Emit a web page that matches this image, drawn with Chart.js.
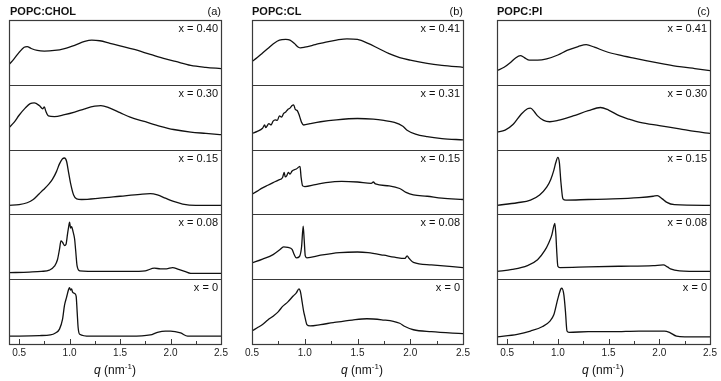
<!DOCTYPE html>
<html>
<head>
<meta charset="utf-8">
<script src="https://cdn.jsdelivr.net/npm/chart.js@4.4.1/dist/chart.umd.min.js"></script>
<style>
  body { margin: 0; width: 721px; height: 381px; background: #fff; position: relative; overflow: hidden;
         font-family: "Liberation Sans", Arial, sans-serif; color: #111; }
  canvas { position: absolute; top: 0; }
  .title { position: absolute; top: 5px; font-size: 11px; font-weight: bold; }
  .tag { position: absolute; top: 5px; font-size: 11px; text-align: right; width: 40px; }
  .qlab { position: absolute; top: 362px; font-size: 12px; width: 100px; text-align: center; }
  .qlab sup { font-size: 8px; }
</style>
</head>
<body>
<canvas id="chart_a" width="240" height="381" style="left:0px"></canvas>
<canvas id="chart_b" width="240" height="381" style="left:240px"></canvas>
<canvas id="chart_c" width="241" height="381" style="left:480px"></canvas>

<div class="title" style="left:10px">POPC:CHOL</div>
<div class="tag" style="left:181px">(a)</div>
<div class="title" style="left:252px">POPC:CL</div>
<div class="tag" style="left:423px">(b)</div>
<div class="title" style="left:497px">POPC:PI</div>
<div class="tag" style="left:670px">(c)</div>
<div class="qlab" style="left:65px"><i>q</i> (nm<sup>-1</sup>)</div>
<div class="qlab" style="left:312px"><i>q</i> (nm<sup>-1</sup>)</div>
<div class="qlab" style="left:553px"><i>q</i> (nm<sup>-1</sup>)</div>

<script>
// curves as [q, relative intensity]; 0 = bottom of its strip, 1 = top
const chol_40 = [[0.4,0.31],[0.45,0.40],[0.5,0.50],[0.55,0.58],[0.58,0.59],[0.62,0.56],[0.68,0.53],[0.75,0.52],[0.85,0.53],[0.95,0.56],[1.05,0.61],[1.15,0.67],[1.22,0.69],[1.3,0.68],[1.4,0.64],[1.5,0.60],[1.63,0.55],[1.8,0.47],[1.95,0.40],[2.05,0.36],[2.2,0.30],[2.35,0.27],[2.5,0.25]];
const chol_30 = [[0.4,0.34],[0.45,0.42],[0.5,0.53],[0.56,0.64],[0.61,0.71],[0.65,0.72],[0.7,0.68],[0.735,0.63],[0.75,0.66],[0.765,0.59],[0.79,0.52],[0.85,0.51],[0.95,0.54],[1.05,0.58],[1.15,0.63],[1.25,0.67],[1.31,0.68],[1.4,0.64],[1.5,0.57],[1.6,0.50],[1.75,0.43],[1.9,0.36],[2.03,0.31],[2.2,0.27],[2.35,0.25],[2.5,0.23]];
const chol_15 = [[0.4,0.14],[0.5,0.15],[0.58,0.18],[0.64,0.23],[0.7,0.32],[0.74,0.38],[0.79,0.46],[0.83,0.54],[0.87,0.66],[0.9,0.78],[0.93,0.86],[0.95,0.87],[0.97,0.82],[0.99,0.65],[1.01,0.48],[1.04,0.30],[1.07,0.24],[1.12,0.23],[1.3,0.25],[1.5,0.28],[1.7,0.31],[1.8,0.32],[1.87,0.30],[1.95,0.25],[2.03,0.20],[2.12,0.16],[2.25,0.14],[2.5,0.14]];
const chol_08 = [[0.4,0.10],[0.6,0.11],[0.72,0.12],[0.8,0.14],[0.85,0.20],[0.88,0.30],[0.9,0.46],[0.915,0.59],[0.93,0.57],[0.95,0.52],[0.965,0.54],[0.98,0.70],[0.99,0.80],[1.0,0.88],[1.01,0.79],[1.02,0.81],[1.035,0.73],[1.05,0.62],[1.06,0.45],[1.075,0.20],[1.1,0.13],[1.3,0.12],[1.6,0.12],[1.75,0.13],[1.84,0.17],[1.9,0.16],[1.96,0.16],[2.02,0.18],[2.08,0.15],[2.14,0.12],[2.2,0.09],[2.5,0.09]];
const chol_00 = [[0.4,0.12],[0.7,0.13],[0.81,0.14],[0.86,0.17],[0.9,0.23],[0.93,0.38],[0.95,0.60],[0.97,0.72],[0.99,0.84],[1.0,0.87],[1.01,0.83],[1.02,0.85],[1.03,0.80],[1.05,0.78],[1.065,0.74],[1.075,0.50],[1.085,0.25],[1.1,0.15],[1.2,0.12],[1.6,0.12],[1.8,0.14],[1.87,0.18],[1.95,0.20],[2.0,0.20],[2.1,0.17],[2.17,0.12],[2.5,0.12]];

const cl_41 = [[0.5,0.36],[0.55,0.42],[0.6,0.49],[0.65,0.56],[0.7,0.63],[0.76,0.69],[0.82,0.70],[0.86,0.69],[0.9,0.64],[0.94,0.58],[0.96,0.57],[1.0,0.58],[1.1,0.62],[1.2,0.66],[1.3,0.69],[1.4,0.71],[1.5,0.70],[1.6,0.64],[1.7,0.56],[1.8,0.48],[1.9,0.42],[2.0,0.38],[2.16,0.33],[2.3,0.30],[2.5,0.27]];
const cl_31 = [[0.5,0.25],[0.55,0.28],[0.6,0.33],[0.62,0.38],[0.63,0.34],[0.66,0.40],[0.68,0.38],[0.7,0.44],[0.72,0.46],[0.74,0.45],[0.76,0.52],[0.78,0.50],[0.8,0.56],[0.82,0.58],[0.84,0.62],[0.86,0.64],[0.88,0.68],[0.895,0.69],[0.91,0.62],[0.93,0.60],[0.95,0.52],[0.97,0.42],[0.99,0.38],[1.05,0.40],[1.15,0.43],[1.3,0.46],[1.5,0.48],[1.65,0.47],[1.75,0.45],[1.85,0.42],[1.93,0.36],[1.97,0.30],[2.05,0.24],[2.16,0.20],[2.3,0.17],[2.5,0.15]];
const cl_15 = [[0.5,0.31],[0.55,0.36],[0.6,0.41],[0.65,0.45],[0.7,0.49],[0.75,0.53],[0.79,0.57],[0.805,0.65],[0.815,0.58],[0.83,0.60],[0.845,0.65],[0.86,0.62],[0.88,0.67],[0.92,0.70],[0.955,0.74],[0.965,0.58],[0.98,0.44],[1.0,0.43],[1.1,0.46],[1.2,0.49],[1.35,0.51],[1.5,0.50],[1.63,0.48],[1.65,0.50],[1.67,0.47],[1.8,0.44],[1.9,0.40],[1.96,0.34],[2.03,0.30],[2.16,0.28],[2.3,0.25],[2.5,0.23]];
const cl_08 = [[0.5,0.25],[0.6,0.31],[0.7,0.38],[0.76,0.45],[0.8,0.50],[0.84,0.49],[0.88,0.46],[0.9,0.38],[0.92,0.33],[0.95,0.35],[0.97,0.50],[0.985,0.82],[0.995,0.60],[1.005,0.36],[1.02,0.33],[1.15,0.37],[1.33,0.41],[1.5,0.42],[1.6,0.41],[1.75,0.37],[1.85,0.34],[1.95,0.32],[1.97,0.36],[1.99,0.32],[2.03,0.26],[2.2,0.22],[2.5,0.18]];
const cl_00 = [[0.5,0.20],[0.55,0.25],[0.6,0.30],[0.65,0.37],[0.7,0.43],[0.75,0.50],[0.79,0.58],[0.84,0.65],[0.89,0.74],[0.92,0.79],[0.945,0.85],[0.96,0.80],[0.975,0.65],[0.99,0.50],[1.0,0.43],[1.02,0.30],[1.05,0.28],[1.15,0.30],[1.27,0.33],[1.45,0.37],[1.59,0.39],[1.75,0.37],[1.84,0.35],[1.9,0.32],[1.95,0.27],[2.03,0.22],[2.2,0.19],[2.5,0.16]];

const pi_41 = [[0.4,0.22],[0.47,0.27],[0.53,0.34],[0.58,0.41],[0.63,0.45],[0.67,0.42],[0.72,0.38],[0.8,0.38],[0.89,0.40],[1.0,0.46],[1.09,0.53],[1.2,0.59],[1.28,0.62],[1.36,0.58],[1.48,0.51],[1.6,0.46],[1.75,0.41],[1.88,0.37],[2.05,0.32],[2.2,0.28],[2.35,0.25],[2.5,0.22]];
const pi_30 = [[0.4,0.27],[0.48,0.30],[0.56,0.39],[0.64,0.55],[0.7,0.63],[0.73,0.64],[0.77,0.58],[0.8,0.52],[0.86,0.45],[0.92,0.43],[1.0,0.45],[1.15,0.52],[1.3,0.60],[1.42,0.65],[1.5,0.61],[1.61,0.52],[1.7,0.47],[1.81,0.42],[2.0,0.37],[2.2,0.32],[2.35,0.28],[2.5,0.25]];
const pi_15 = [[0.4,0.14],[0.6,0.18],[0.73,0.22],[0.82,0.30],[0.89,0.42],[0.93,0.54],[0.96,0.68],[0.98,0.80],[1.0,0.88],[1.015,0.80],[1.03,0.50],[1.05,0.24],[1.08,0.22],[1.3,0.23],[1.54,0.24],[1.8,0.26],[1.94,0.28],[1.98,0.29],[2.03,0.24],[2.07,0.19],[2.15,0.15],[2.5,0.14]];
const pi_08 = [[0.4,0.12],[0.55,0.15],[0.7,0.21],[0.8,0.30],[0.87,0.44],[0.91,0.56],[0.94,0.68],[0.96,0.82],[0.97,0.86],[0.98,0.70],[0.99,0.40],[1.0,0.20],[1.02,0.18],[1.3,0.19],[1.6,0.20],[1.94,0.21],[2.04,0.22],[2.08,0.19],[2.11,0.16],[2.2,0.13],[2.5,0.12]];
const pi_00 = [[0.4,0.11],[0.6,0.15],[0.73,0.20],[0.85,0.27],[0.92,0.35],[0.96,0.45],[1.0,0.70],[1.03,0.85],[1.04,0.86],[1.06,0.75],[1.075,0.50],[1.09,0.20],[1.11,0.18],[1.3,0.19],[1.54,0.19],[1.8,0.20],[1.97,0.20],[2.05,0.20],[2.1,0.18],[2.17,0.12],[2.25,0.11],[2.5,0.11]];

const cholLabels = ["x = 0.40", "x = 0.30", "x = 0.15", "x = 0.08", "x = 0"];
const clLabels = ["x = 0.41", "x = 0.31", "x = 0.15", "x = 0.08", "x = 0"];
const piLabels = ["x = 0.41", "x = 0.30", "x = 0.15", "x = 0.08", "x = 0"];
const qMajor = [0.5, 1.0, 1.5, 2.0, 2.5];
const qMinor = [0.75, 1.25, 1.75, 2.25];

// frame, strip separators, inward ticks and the x = ... labels
const framePlugin = {
  id: "frame",
  afterDatasetsDraw(chart) {
    const { ctx, chartArea: a, scales } = chart;
    const strips = chart.options.plugins.frame.strips;
    ctx.save();
    ctx.strokeStyle = "#3a3a3a";
    ctx.lineWidth = 1.2;
    ctx.strokeRect(Math.round(a.left) + 0.5, Math.round(a.top) + 0.5, Math.round(a.right - a.left), Math.round(a.bottom - a.top));
    ctx.font = "11px 'Liberation Sans', Arial, sans-serif";
    ctx.fillStyle = "#111";
    ctx.textAlign = "right";
    ctx.textBaseline = "middle";
    strips.forEach((label, i) => {
      const s = scales["y" + i];
      if (s.top > a.top + 2) {
        const yy = Math.round(s.top) + 0.5;
        ctx.beginPath(); ctx.moveTo(a.left, yy); ctx.lineTo(a.right, yy); ctx.stroke();
      }
      ctx.fillText(label, a.right - 3, s.top + 9);
    });
    const x = scales.x;
    const base = Math.round(a.bottom);
    ctx.lineWidth = 1;
    const tick = (v, len) => {
      if (v <= x.min || v >= x.max) return;
      const px = Math.round(x.getPixelForValue(v)) + 0.5;
      ctx.beginPath(); ctx.moveTo(px, base); ctx.lineTo(px, base - len); ctx.stroke();
    };
    qMajor.forEach(v => tick(v, 5));
    qMinor.forEach(v => tick(v, 3));
    ctx.restore();
  }
};

function makePanel(id, qMin, curves, labels, pad) {
  const scales = {
    x: {
      type: "linear", min: qMin, max: 2.5,
      grid: { display: false, drawTicks: false }, border: { display: false },
      ticks: { stepSize: 0.5, includeBounds: false, padding: 3, color: "#222",
               font: { size: 10, family: "'Liberation Sans', Arial, sans-serif" },
               callback: v => v.toFixed(1) },
      afterFit: s => { s.height = 18; }
    }
  };
  curves.forEach((c, i) => {
    scales["y" + i] = {
      type: "linear", min: 0, max: 1, position: "left", stack: "strips", stackWeight: 1,
      weight: curves.length - i,
      grid: { display: false, drawTicks: false }, border: { display: false }, ticks: { display: false },
      afterFit: s => { s.width = 0; }
    };
  });
  return new Chart(document.getElementById(id), {
    type: "line",
    data: {
      datasets: curves.map((c, i) => ({
        data: c.map(p => ({ x: p[0], y: p[1] })),
        yAxisID: "y" + i,
        borderColor: "#111",
        borderWidth: 1.3,
        pointRadius: 0,
        cubicInterpolationMode: "monotone",
        fill: false
      }))
    },
    options: {
      responsive: false,
      animation: false,
      layout: { padding: pad },
      scales,
      plugins: { legend: { display: false }, tooltip: { enabled: false }, frame: { strips: labels } }
    },
    plugins: [framePlugin]
  });
}

makePanel("chart_a", 0.4, [chol_40, chol_30, chol_15, chol_08, chol_00], cholLabels, { left: 9, right: 19, top: 20, bottom: 19 });
makePanel("chart_b", 0.5, [cl_41, cl_31, cl_15, cl_08, cl_00], clLabels, { left: 12, right: 17, top: 20, bottom: 19 });
makePanel("chart_c", 0.4, [pi_41, pi_30, pi_15, pi_08, pi_00], piLabels, { left: 17, right: 11, top: 20, bottom: 19 });
</script>
</body>
</html>
